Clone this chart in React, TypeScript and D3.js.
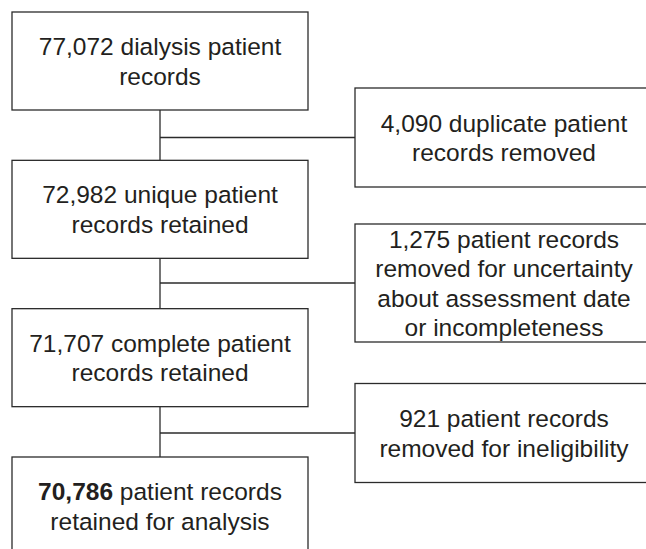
import React from "react";
import * as d3 from "d3";

// Flow steps (main column)
const mainCounts = ["77,072", "72,982", "71,707", "70,786"];
const mainLines: string[][] = [
  ["77,072 dialysis patient", "records"],
  ["72,982 unique patient", "records retained"],
  ["71,707 complete patient", "records retained"],
  ["70,786 patient records", "retained for analysis"],
];
const mainBold = [false, false, false, true];

// Exclusions (side column)
const excludedLines: string[][] = [
  ["4,090 duplicate patient", "records removed"],
  ["1,275 patient records", "removed for uncertainty", "about assessment date", "or incompleteness"],
  ["921 patient records", "removed for ineligibility"],
];

const W = 646;
const H = 549;
const FS = 24.5;
const LH = 29.5;
const STROKE = "#2b2b2b";
const TEXT = "#231f20";

// layout
const mainX0 = 12;
const mainX1 = 308;
const mainH = 98;
const sideX0 = 355;
const sideX1 = 653;
const branchY = [137.5, 283, 433];
const sideH = [99, 118, 99];

export default function App() {
  const yTop = d3.scaleLinear().domain([0, 3]).range([12, 457]);
  const cx = (mainX0 + mainX1) / 2;
  const sideCx = (sideX0 + sideX1) / 2;

  const renderLines = (lines: string[], centerX: number, centerY: number, bold: boolean, count?: string) =>
    lines.map((ln, i) => {
      const y = centerY + (i - (lines.length - 1) / 2) * LH + FS * 0.36;
      if (bold && i === 0 && count && ln.startsWith(count)) {
        return (
          <text key={i} x={centerX} y={y} textAnchor="middle">
            <tspan fontWeight="bold">{count}</tspan>
            <tspan>{ln.slice(count.length)}</tspan>
          </text>
        );
      }
      return (
        <text key={i} x={centerX} y={y} textAnchor="middle">
          {ln}
        </text>
      );
    });

  return (
    <svg
      width={W}
      height={H}
      style={{
        position: "absolute",
        left: 0,
        top: 0,
        background: "#fff",
        fontFamily: '"Liberation Sans", Arial, sans-serif',
        fontSize: FS,
      }}
      fill={TEXT}
    >
      <rect x={0} y={0} width={W} height={H} fill="#fff" />
      {/* connectors */}
      {mainLines.slice(0, -1).map((_, i) => (
        <g key={"c" + i} stroke={STROKE} strokeWidth={1.3} fill="none">
          <line x1={cx} x2={cx} y1={yTop(i) + mainH} y2={yTop(i + 1)} />
          <line x1={cx} x2={sideX0} y1={branchY[i]} y2={branchY[i]} />
        </g>
      ))}
      {/* main boxes */}
      {mainLines.map((lines, i) => (
        <g key={"m" + i}>
          <rect
            x={mainX0}
            y={yTop(i)}
            width={mainX1 - mainX0}
            height={mainH}
            fill="#fff"
            stroke={STROKE}
            strokeWidth={1.3}
          />
          {renderLines(lines, cx, yTop(i) + mainH / 2, mainBold[i], mainCounts[i])}
        </g>
      ))}
      {/* side boxes */}
      {excludedLines.map((lines, i) => (
        <g key={"s" + i}>
          <rect
            x={sideX0}
            y={branchY[i] - sideH[i] / 2}
            width={sideX1 - sideX0}
            height={sideH[i]}
            fill="#fff"
            stroke={STROKE}
            strokeWidth={1.3}
          />
          {renderLines(lines, sideCx, branchY[i], false)}
        </g>
      ))}
    </svg>
  );
}
